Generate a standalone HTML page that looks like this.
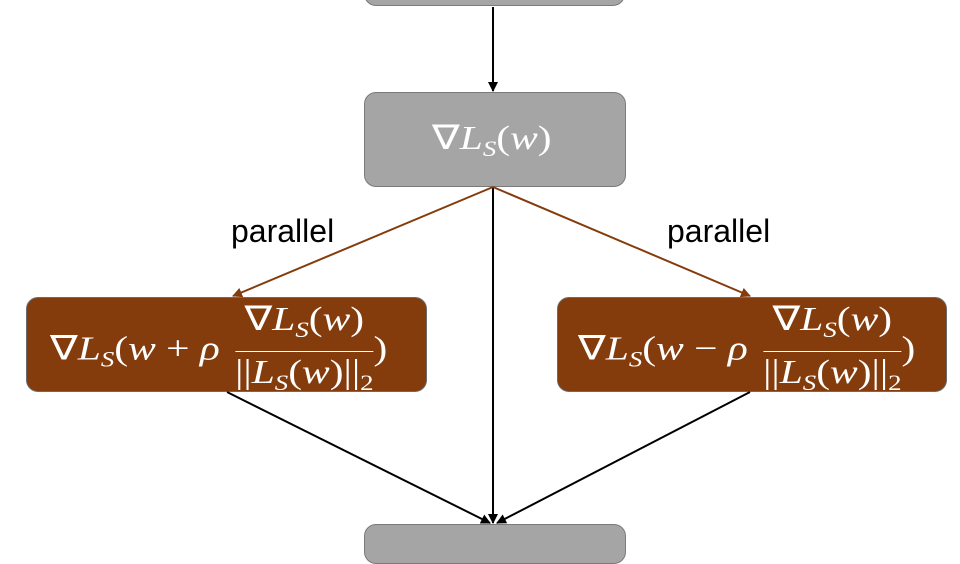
<!DOCTYPE html>
<html><head><meta charset="utf-8"><style>
body{margin:0;width:960px;height:540px;background:#fff;overflow:hidden;position:relative;font-family:"Liberation Serif",serif}
.b{position:absolute;box-sizing:border-box;border-radius:12px;border:1.5px solid #7a7a7a;color:#fff}
.g{background:#a5a5a5}
.r{background:#843c0c;border-color:#6b6b6b}
.t{position:absolute;font-size:34px;white-space:nowrap;color:#fff;transform:scaleX(1.22);transform-origin:0 0}
i{font-style:italic}
sub{font-size:22px;vertical-align:-7px}
.lbl{position:absolute;font-family:"Liberation Sans",sans-serif;font-size:32px;color:#000}
.frac{display:inline-block;vertical-align:middle;text-align:center;margin-left:4px}
.frac span{display:block;line-height:42px}
.num{border-bottom:1.5px solid #fff;padding:0 4px 0}
</style></head><body>
<div class="b g" style="left:364px;top:-20px;width:261px;height:26px"></div>
<div class="b g" style="left:364px;top:92px;width:262px;height:95px"></div>
<div class="b g" style="left:364px;top:524px;width:262px;height:40px"></div>
<div class="b r" style="left:26px;top:297px;width:401px;height:95px"></div>
<div class="b r" style="left:557px;top:297px;width:390px;height:95px"></div>
<div class="t" style="left:432px;top:118px">∇<i>L</i><sub><i>S</i></sub>(<i>w</i>)</div>
<div class="t" style="left:50px;top:299px">∇<i>L</i><sub><i>S</i></sub>(<i>w</i> + <i>ρ</i> <span class="frac"><span class="num">∇<i>L</i><sub><i>S</i></sub>(<i>w</i>)</span><span>||<i>L</i><sub><i>S</i></sub>(<i>w</i>)||<sub>2</sub></span></span>)</div>
<div class="t" style="left:578px;top:299px">∇<i>L</i><sub><i>S</i></sub>(<i>w</i> − <i>ρ</i> <span class="frac"><span class="num">∇<i>L</i><sub><i>S</i></sub>(<i>w</i>)</span><span>||<i>L</i><sub><i>S</i></sub>(<i>w</i>)||<sub>2</sub></span></span>)</div>
<div class="lbl" style="left:231px;top:213px">parallel</div>
<div class="lbl" style="left:667px;top:213px">parallel</div>
<svg width="960" height="540" style="position:absolute;left:0;top:0">
<defs>
<marker id="a" markerWidth="10" markerHeight="10" refX="9" refY="5" orient="auto" markerUnits="userSpaceOnUse"><path d="M0,0 L10,5 L0,10z" fill="#000"/></marker>
<marker id="ab" markerWidth="10" markerHeight="10" refX="9" refY="5" orient="auto" markerUnits="userSpaceOnUse"><path d="M0,0 L10,5 L0,10z" fill="#843c0c"/></marker>
</defs>
<g stroke-width="2" fill="none">
<line x1="493" y1="7" x2="493" y2="91" stroke="#000" marker-end="url(#a)"/>
<line x1="493" y1="187" x2="493" y2="523" stroke="#000" marker-end="url(#a)"/>
<line x1="493" y1="187" x2="233" y2="296" stroke="#843c0c" marker-end="url(#ab)"/>
<line x1="493" y1="187" x2="750" y2="296" stroke="#843c0c" marker-end="url(#ab)"/>
<line x1="227" y1="392" x2="490" y2="523" stroke="#000" marker-end="url(#a)"/>
<line x1="750" y1="392" x2="497" y2="523" stroke="#000" marker-end="url(#a)"/>
</g></svg>
</body></html>
